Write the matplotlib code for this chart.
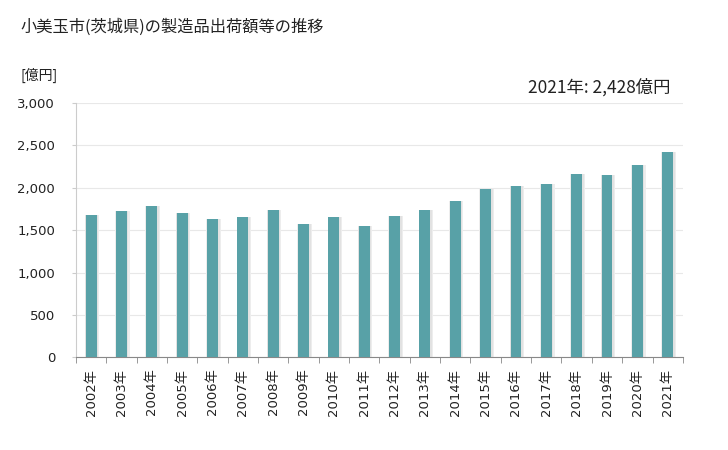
import matplotlib
matplotlib.use("Agg")
import matplotlib.pyplot as plt
import numpy as np

plt.rcParams['font.family'] = ['Noto Sans CJK JP', 'DejaVu Sans']
TICKFONT = ['DejaVu Sans', 'Noto Sans CJK JP']

years = [2002, 2003, 2004, 2005, 2006, 2007, 2008, 2009, 2010, 2011,
         2012, 2013, 2014, 2015, 2016, 2017, 2018, 2019, 2020, 2021]
values = [1674, 1721, 1780, 1709, 1627, 1662, 1733, 1568, 1651, 1545,
          1671, 1742, 1848, 1989, 2025, 2048, 2166, 2154, 2272, 2428]
xlabels = [f"{y}年" for y in years]
yticks = [0, 500, 1000, 1500, 2000, 2500, 3000]

title = "小美玉市(茨城県)の製造品出荷額等の推移"
unit = "[億円]"
note = "2021年: 2,428億円"

fig = plt.figure(figsize=(7.28, 4.5), dpi=100)
ax = fig.add_axes([0.1044, 0.2056, 0.8336, 0.5655])

x = np.arange(len(years))
bw = 0.36
# soft shadow behind bars
ax.bar(x + 0.03, values, width=bw + 0.12, color='#ededed', zorder=2)
ax.bar(x + 0.02, values, width=bw + 0.06, color='#e2e2e2', zorder=2)
ax.bar(x, values, width=bw, color='#58A1A7', zorder=3)

ax.set_xlim(-0.5, len(years) - 0.5)
ax.set_ylim(0, 3000)
ax.set_yticks(yticks)
ax.set_yticklabels([f"{v:,}" for v in yticks], fontsize=9.5, color='#222222',
                   family=TICKFONT)
ax.set_xticks(x)
ax.set_xticklabels(xlabels, rotation=90, fontsize=9.5, color='#222222',
                   family=TICKFONT)
ax.tick_params(axis='x', length=0, pad=8)
ax.set_xticks(np.arange(-0.5, len(years), 1), minor=True)
ax.tick_params(axis='x', which='minor', length=4, color='#888888')
ax.tick_params(axis='y', length=3, color='#cccccc', pad=12)

ax.grid(axis='y', color='#e8e8e8', linewidth=0.8, zorder=0)
ax.set_axisbelow(True)
for s in ['top', 'right']:
    ax.spines[s].set_visible(False)
ax.spines['left'].set_color('#cccccc')
ax.spines['bottom'].set_color('#888888')

fig.text(20 / 728, 1 - 27 / 450, title, fontsize=11.7, va='center', ha='left', color='#222222')
fig.text(20 / 728, 1 - 75 / 450, unit, fontsize=10, va='center', ha='left', color='#222222')
fig.text(671 / 728, 1 - 87 / 450, note, fontsize=12.5, va='center', ha='right', color='#222222')

fig.savefig("out.png", dpi=100)
